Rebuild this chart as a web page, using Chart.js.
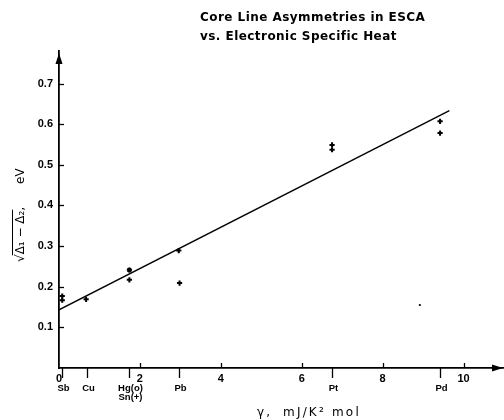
<!DOCTYPE html>
<html>
<head>
<meta charset="utf-8">
<script src="https://cdn.jsdelivr.net/npm/chart.js@4"></script>
<style>
  html, body { margin: 0; padding: 0; background: #fff; }
  canvas { display: block; }
</style>
</head>
<body>
<canvas id="c" width="504" height="420"></canvas>
<script>
// Electronic specific heat coefficient (mJ/K^2 mol) and core line asymmetry (eV)
const gammaTicks = [0, 2, 4, 6, 8, 10];
const asymTicks = [0.1, 0.2, 0.3, 0.4, 0.5, 0.6, 0.7];

const elements = ['Sb', 'Cu', 'Hg(o)', 'Sn(+)', 'Pb', 'Pt', 'Pd'];
const elementGamma = [0.08, 0.69, 1.74, 1.74, 2.97, 6.74, 9.42];
const elementRow = [0, 0, 0, 1, 0, 0, 0];

const sbGamma = [0.08, 0.08];   const sbAsym = [0.177, 0.167];
const cuGamma = [0.67];         const cuAsym = [0.169];
const hgGamma = [1.74];         const hgAsym = [0.241];
const snGamma = [1.74];         const snAsym = [0.217];
const pbGamma = [2.96, 2.98];   const pbAsym = [0.289, 0.209];
const ptGamma = [6.75, 6.75];   const ptAsym = [0.549, 0.537];
const pdGamma = [9.42, 9.42];   const pdAsym = [0.607, 0.578];
const dotGamma = [8.92];        const dotAsym = [0.155];

// least-squares line through the measurements
const fitGamma = [0, 9.65];
const fitAsym = [0.143, 0.633];

const pts = (xs, ys) => xs.map((x, i) => ({ x, y: ys[i] }));

const plusSet = (xs, ys) => ({
  type: 'scatter', data: pts(xs, ys), pointStyle: 'cross', pointRadius: 2.6,
  borderColor: '#000', backgroundColor: '#000', pointBorderWidth: 2
});

const datasets = [
  {
    type: 'line', data: pts(fitGamma, fitAsym), borderColor: '#000',
    borderWidth: 1.4, pointRadius: 0, fill: false, tension: 0
  },
  plusSet(sbGamma, sbAsym),
  plusSet(cuGamma, cuAsym),
  {
    type: 'scatter', data: pts(hgGamma, hgAsym), pointStyle: 'circle', pointRadius: 2.2,
    borderColor: '#000', backgroundColor: '#000', pointBorderWidth: 1
  },
  plusSet(snGamma, snAsym),
  plusSet(pbGamma, pbAsym),
  plusSet(ptGamma, ptAsym),
  plusSet(pdGamma, pdAsym),
  {
    type: 'scatter', data: pts(dotGamma, dotAsym), pointStyle: 'circle', pointRadius: 1.1,
    borderColor: '#000', backgroundColor: '#000', pointBorderWidth: 0
  }
];

// axis decorations: inward tick marks, element markers, arrowheads, titles
const decor = {
  id: 'decor',
  afterDraw(chart) {
    const ctx = chart.ctx;
    const xs = chart.scales.x, ys = chart.scales.y;
    const x0 = xs.getPixelForValue(0), y0 = ys.getPixelForValue(0);
    ctx.save();
    ctx.strokeStyle = '#000';
    ctx.fillStyle = '#000';
    ctx.lineWidth = 1.3;

    // numeric ticks on the gamma axis point upward
    gammaTicks.forEach(g => {
      if (g === 0) return;
      const px = Math.round(xs.getPixelForValue(g)) + 0.5;
      ctx.beginPath(); ctx.moveTo(px, y0); ctx.lineTo(px, y0 - 5); ctx.stroke();
    });
    // asymmetry ticks point right
    asymTicks.forEach(v => {
      const py = Math.round(ys.getPixelForValue(v)) + 0.5;
      ctx.beginPath(); ctx.moveTo(x0, py); ctx.lineTo(x0 + 5, py); ctx.stroke();
    });
    // element markers hang below the axis
    ctx.font = 'bold 9.5px "Liberation Sans", Arial, sans-serif';
    ctx.textAlign = 'center';
    ctx.textBaseline = 'middle';
    elements.forEach((el, i) => {
      const px = Math.round(xs.getPixelForValue(elementGamma[i])) + 0.5;
      if (elementRow[i] === 0) {
        ctx.beginPath(); ctx.moveTo(px, y0); ctx.lineTo(px, y0 + 10); ctx.stroke();
      }
      ctx.fillText(el, px + 1, y0 + 20 + elementRow[i] * 9);
    });

    // arrowheads
    const right = chart.chartArea.right - 1;
    ctx.beginPath();
    ctx.moveTo(right, y0); ctx.lineTo(right - 11, y0 - 3.5); ctx.lineTo(right - 11, y0 + 3.5);
    ctx.closePath(); ctx.fill();
    const top = chart.chartArea.top + 2;
    ctx.beginPath();
    ctx.moveTo(x0, top); ctx.lineTo(x0 - 3.5, top + 11); ctx.lineTo(x0 + 3.5, top + 11);
    ctx.closePath(); ctx.fill();

    // title
    ctx.textAlign = 'left';
    ctx.textBaseline = 'middle';
    ctx.font = 'bold 12px "DejaVu Sans", sans-serif';
    ctx.letterSpacing = '0.45px';
    ctx.fillText('Core Line Asymmetries in ESCA', 200, 18);
    ctx.fillText('vs. Electronic Specific Heat', 200, 37);

    // gamma axis title
    ctx.font = '12px "DejaVu Sans", sans-serif';
    ctx.letterSpacing = '2.2px';
    ctx.fillText('γ,', 257, 413);
    ctx.fillText('mJ/K² mol', 283, 413);
    ctx.letterSpacing = '0px';

    // asymmetry axis title, rotated, with square root bar
    ctx.translate(24, 262);
    ctx.rotate(-Math.PI / 2);
    ctx.textBaseline = 'alphabetic';
    ctx.font = '12px "DejaVu Sans", sans-serif';
    const rootW = ctx.measureText('√').width;
    ctx.fillText('√', 0, 0);
    const inner = 'Δ₁ − Δ₂';
    const innerW = ctx.measureText(inner).width;
    ctx.fillText(inner, rootW, 0);
    ctx.lineWidth = 1;
    ctx.beginPath(); ctx.moveTo(rootW - 1, -11.5); ctx.lineTo(rootW + innerW + 1, -11.5); ctx.stroke();
    ctx.fillText(',      eV', rootW + innerW, 0);
    ctx.restore();
  }
};

new Chart(document.getElementById('c'), {
  data: { datasets },
  options: {
    responsive: false,
    animation: false,
    events: [],
    layout: { autoPadding: false, padding: { top: 51, right: 0, left: 0, bottom: 0 } },
    plugins: { legend: { display: false }, tooltip: { enabled: false }, title: { display: false } },
    scales: {
      x: {
        type: 'linear', position: 'bottom', min: 0, max: 11,
        afterBuildTicks: s => { s.ticks = gammaTicks.map(v => ({ value: v })); },
        afterFit: s => { s.height = 52; },
        grid: { display: false, drawTicks: false },
        border: { display: true, color: '#000', width: 1.8 },
        ticks: {
          color: '#000', padding: 4, maxRotation: 0,
          font: { family: '"Liberation Sans", Arial, sans-serif', size: 11, weight: 'bold' },
          callback: v => String(v)
        }
      },
      y: {
        type: 'linear', position: 'left', min: 0, max: 0.78,
        afterBuildTicks: s => { s.ticks = asymTicks.map(v => ({ value: v })); },
        afterFit: s => { s.width = 59; },
        grid: { display: false, drawTicks: false },
        border: { display: true, color: '#000', width: 1.8 },
        ticks: {
          color: '#000', padding: 6,
          font: { family: '"Liberation Sans", Arial, sans-serif', size: 11, weight: 'bold' },
          callback: v => v.toFixed(1)
        }
      }
    }
  },
  plugins: [decor]
});
</script>
</body>
</html>
